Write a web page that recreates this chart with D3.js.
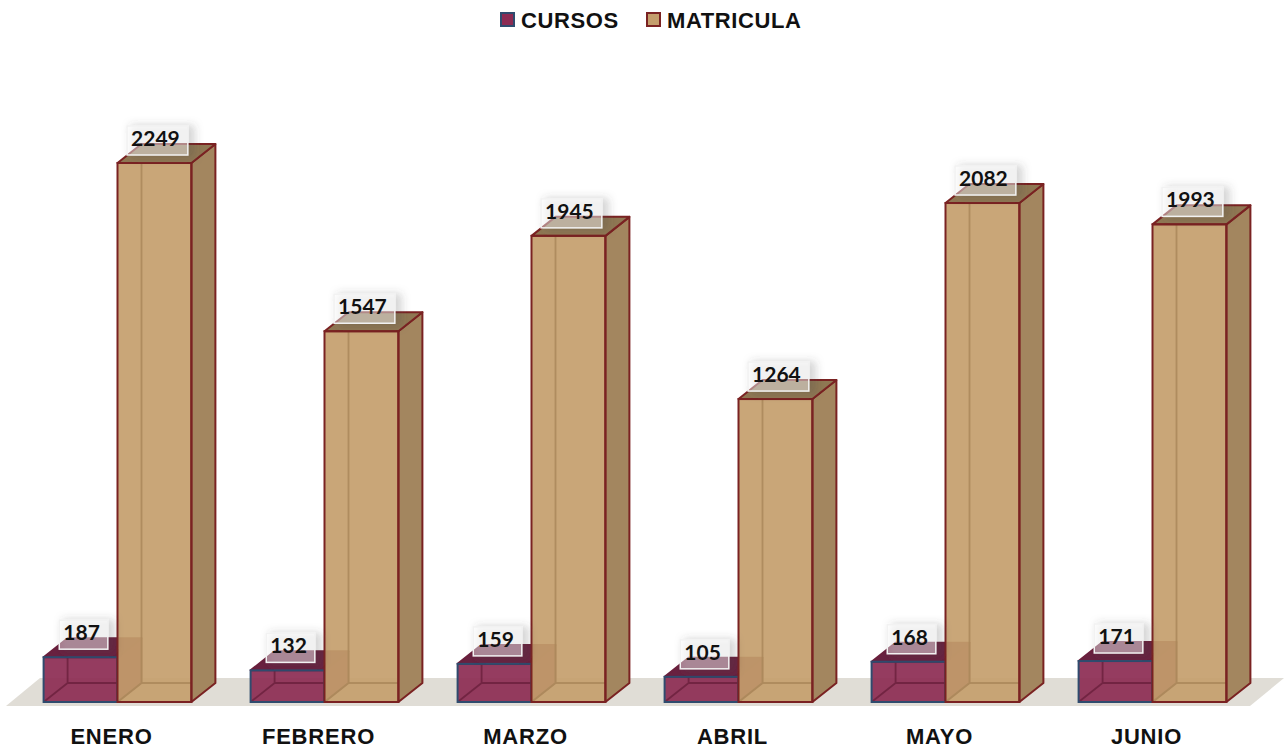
<!DOCTYPE html>
<meta charset="utf-8">
<script src="https://cdnjs.cloudflare.com/ajax/libs/d3/7.8.5/d3.min.js"></script>
<style>
 body { margin: 0; background: #fff; }
 svg { display: block; }
</style>
<div id="container"></div>
<script>
 // data
 var months = ["ENERO", "FEBRERO", "MARZO", "ABRIL", "MAYO", "JUNIO"];
 var seriesNames = ["CURSOS", "MATRICULA"];
 var cursos = [187, 132, 159, 105, 168, 171];
 var matricula = [2249, 1547, 1945, 1264, 2082, 1993];

 var width = 1284, height = 748;
 var depthX = 24, depthY = 19;   // 3d offset of the boxes

 var colors = {
     CURSOS:    {front: "#8c2b53", side: "#6e2444", top: "#682140", edge: "#6a1f3c", outline: "#2f4b6e", hidden: "#6a1f3c"},
     MATRICULA: {front: "#c49e6c", side: "#a3865f", top: "#8f7753", edge: "#7a2222", outline: "#7a2222", hidden: "#a98659"}
 };

 var svg = d3.select("#container").append("svg")
             .attr("width", width)
             .attr("height", height);

 var defs = svg.append("defs");
 var f = defs.append("filter").attr("id", "lblShadow")
             .attr("x", "-30%").attr("y", "-40%").attr("width", "180%").attr("height", "180%");
 f.append("feDropShadow").attr("dx", 5).attr("dy", 1).attr("stdDeviation", 4)
  .attr("flood-color", "#444").attr("flood-opacity", 0.5);

 var x = d3.scaleBand().domain(months).range([14, 1256]);
 var y = d3.scaleLinear().domain([0, 2500]).range([702, 702 - 2500 * 539 / 2249]);
 var barW = x.bandwidth() * 0.357;

 // floor
 var x0 = x.range()[0], x1 = x.range()[1], base = y(0);
 svg.append("polygon")
    .attr("points", [[x0 - 8, base + 4], [x1 - 6, base + 4], [x1 + 28, base - 24], [x0 + 26, base - 24]].join(" "))
    .attr("fill", "#e0ddd6");

 function box(g, bx, w, yTop, yBase, c) {
     var dx = depthX, dy = depthY;
     // front
     g.append("rect")
      .attr("x", bx).attr("y", yTop)
      .attr("width", w).attr("height", yBase - yTop)
      .attr("fill", c.front).attr("fill-opacity", 0.92);
     // hidden edges seen through the front face
     g.append("path")
      .attr("d", `M${bx + dx},${yTop - dy}L${bx + dx},${yBase - dy}L${bx + w + dx},${yBase - dy}M${bx},${yBase}L${bx + dx},${yBase - dy}`)
      .attr("fill", "none").attr("stroke", c.hidden).attr("stroke-width", 1.8).attr("stroke-opacity", 0.8);
     // side
     g.append("polygon")
      .attr("points", [[bx + w, yTop], [bx + w + dx, yTop - dy], [bx + w + dx, yBase - dy], [bx + w, yBase]].join(" "))
      .attr("fill", c.side).attr("stroke", c.edge).attr("stroke-width", 2).attr("stroke-linejoin", "round");
     // top
     g.append("polygon")
      .attr("points", [[bx, yTop], [bx + dx, yTop - dy], [bx + w + dx, yTop - dy], [bx + w, yTop]].join(" "))
      .attr("fill", c.top).attr("stroke", c.edge).attr("stroke-width", 2).attr("stroke-linejoin", "round");
     // front outline
     g.append("rect")
      .attr("x", bx).attr("y", yTop)
      .attr("width", w).attr("height", yBase - yTop)
      .attr("fill", "none").attr("stroke", c.outline).attr("stroke-width", 2);
 }

 function label(g, cx, yTop, v) {
     var lg = g.append("g");
     var t = lg.append("text")
               .attr("x", cx + 1).attr("y", yTop - 17)
               .attr("text-anchor", "middle")
               .style("font", "700 21px Lato, 'Open Sans', sans-serif")
               .attr("fill", "#111")
               .text(v);
     var bb = t.node().getBBox();
     lg.insert("rect", "text")
       .attr("x", bb.x - 4).attr("y", yTop - 37)
       .attr("width", bb.width + 12).attr("height", 29)
       .attr("fill", "#fff").attr("fill-opacity", 0.4)
       .attr("stroke", "#f2f2f2").attr("stroke-width", 1.5)
       .attr("filter", "url(#lblShadow)");
 }

 var bars = svg.append("g");
 var labels = svg.append("g");
 months.forEach(function (m, i) {
     var c = x(m) + x.bandwidth() / 2;
     var g = bars.append("g");
     box(g, c - barW, barW, y(cursos[i]), y(0), colors.CURSOS);
     box(g, c, barW, y(matricula[i]), y(0), colors.MATRICULA);
     label(labels, c - barW / 2, y(cursos[i]), cursos[i]);
     label(labels, c + barW / 2, y(matricula[i]), matricula[i]);
 });

 // category labels
 svg.append("g").selectAll("text")
    .data(months).enter().append("text")
    .attr("x", d => x(d) + x.bandwidth() / 2 - 6)
    .attr("y", 744)
    .attr("text-anchor", "middle")
    .style("font", "700 22px 'Liberation Sans', Arial, sans-serif")
    .style("letter-spacing", "0.8px")
    .attr("fill", "#111")
    .text(d => d);

 // legend
 var legendX = [500, 646];
 var leg = svg.append("g");
 seriesNames.forEach(function (s, i) {
     leg.append("rect")
        .attr("x", legendX[i] + 1).attr("y", 13)
        .attr("width", 13).attr("height", 13)
        .attr("fill", colors[s].front)
        .attr("stroke", colors[s].outline).attr("stroke-width", 2);
     leg.append("text")
        .attr("x", legendX[i] + 21).attr("y", 28)
        .style("font", "700 22px 'Liberation Sans', Arial, sans-serif")
        .style("letter-spacing", "0.6px")
        .attr("fill", "#111")
        .text(s);
 });
</script>
